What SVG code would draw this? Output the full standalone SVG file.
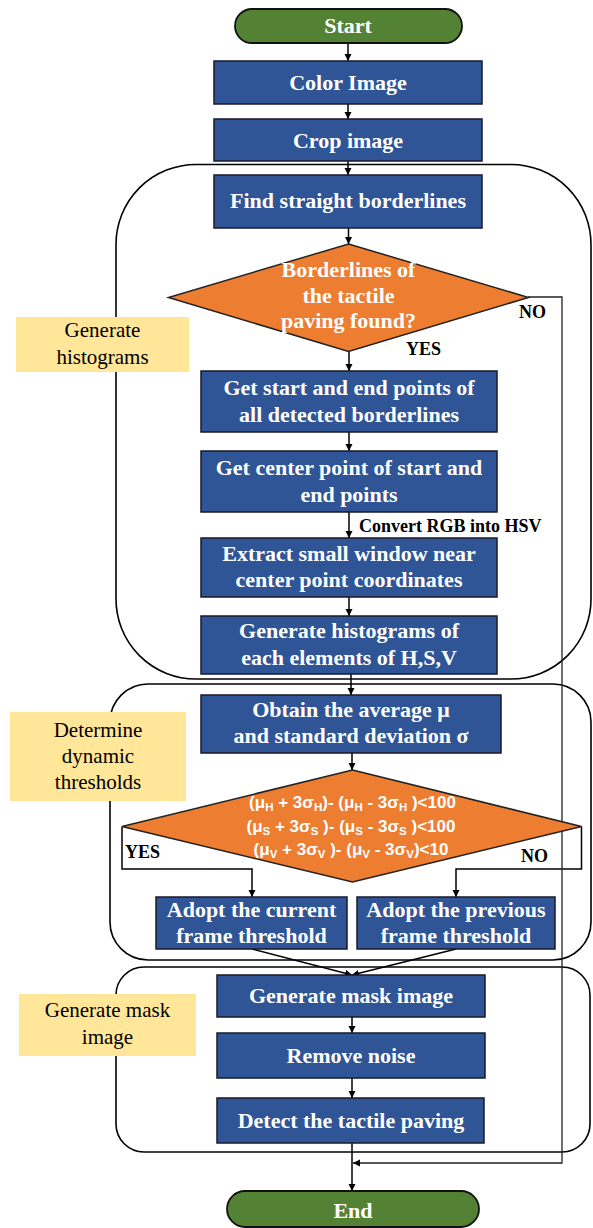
<svg xmlns="http://www.w3.org/2000/svg" width="593" height="1228" viewBox="0 0 593 1228">
<style>
.grp{fill:none;stroke:#000;stroke-width:1.6}
.lbl{fill:#FFE699}
.lt{font-family:"Liberation Serif","Times New Roman",serif;font-size:21px;fill:#000;text-anchor:middle}
.box{fill:#2F5597;stroke:#1a1a2a;stroke-width:1.5}
.term{fill:#548235;stroke:#111;stroke-width:1.8}
.dia{fill:#ED7D31;stroke:#222;stroke-width:1.5}
.bt{font-family:"Liberation Serif","Times New Roman",serif;font-size:22px;font-weight:bold;fill:#fff;text-anchor:middle}
.ct{font-family:"Liberation Serif","Times New Roman",serif;font-size:18px;font-weight:bold;fill:#000}
.ft{font-family:"Liberation Sans",Arial,sans-serif;font-size:17px;font-weight:bold;fill:#fff;text-anchor:middle}
.cn{fill:none;stroke:#000;stroke-width:1.5}
.thin{fill:none;stroke:#222;stroke-width:1.3}
</style>
<defs>
<marker id="ah" markerWidth="8" markerHeight="8" refX="7" refY="4" orient="auto" markerUnits="userSpaceOnUse">
<path d="M0,0.5 L7,4 L0,7.5 z" fill="#000"/>
</marker>
</defs>

<g id="groups">
<rect id="group-histograms" class="grp" x="116" y="164.5" width="475" height="514.5" rx="80" ry="80"/>
<rect id="group-thresholds" class="grp" x="110" y="684" width="481" height="276" rx="38" ry="38"/>
<rect id="group-mask" class="grp" x="116" y="967" width="474" height="185" rx="28" ry="28"/>
</g>

<g id="connectors">
<line class="cn" x1="348" y1="43" x2="348" y2="61" marker-end="url(#ah)"/>
<line class="cn" x1="348" y1="104" x2="348" y2="119" marker-end="url(#ah)"/>
<line class="cn" x1="348" y1="161" x2="348" y2="175" marker-end="url(#ah)"/>
<line class="cn" x1="348.5" y1="228" x2="348.5" y2="244" marker-end="url(#ah)"/>
<line class="cn" x1="349" y1="352" x2="349" y2="371" marker-end="url(#ah)"/>
<line class="cn" x1="349" y1="432" x2="349" y2="451" marker-end="url(#ah)"/>
<line class="cn" x1="349" y1="512" x2="349" y2="538" marker-end="url(#ah)"/>
<line class="cn" x1="349" y1="597" x2="349" y2="616" marker-end="url(#ah)"/>
<line class="cn" x1="351" y1="674" x2="351" y2="695" marker-end="url(#ah)"/>
<line class="cn" x1="352" y1="753" x2="352" y2="770" marker-end="url(#ah)"/>
<path class="cn" d="M122,826.5 V869 H252 V897" marker-end="url(#ah)"/>
<path class="cn" d="M581.5,826.5 V869 H456 V897" marker-end="url(#ah)"/>
<line class="cn" x1="252" y1="949" x2="352" y2="975" marker-end="url(#ah)"/>
<line class="cn" x1="456" y1="949" x2="352" y2="975" marker-end="url(#ah)"/>
<line class="cn" x1="352" y1="1017" x2="352" y2="1033" marker-end="url(#ah)"/>
<line class="cn" x1="352" y1="1078" x2="352" y2="1098" marker-end="url(#ah)"/>
<line class="cn" x1="352" y1="1143" x2="352" y2="1191" marker-end="url(#ah)"/>
<path class="thin" d="M528,297 H562 V1163 H353" marker-end="url(#ah)"/>
</g>

<g id="start">
<rect class="term" x="235" y="9" width="227" height="34" rx="17" ry="17"/>
<text class="bt" x="348" y="33">Start</text>
</g>
<g id="color-image">
<rect class="box" x="214" y="61" width="268" height="43"/>
<text class="bt" x="348" y="90">Color Image</text>
</g>
<g id="crop-image">
<rect class="box" x="214" y="119" width="268" height="42"/>
<text class="bt" x="348" y="148">Crop image</text>
</g>
<g id="find-borderlines">
<rect class="box" x="214" y="175" width="268" height="53"/>
<text class="bt" x="348" y="208">Find straight borderlines</text>
</g>
<g id="borderlines-found">
<polygon class="dia" points="348.5,244 528.5,297.5 348.5,351.5 168.5,297.5"/>
<text class="bt" x="348.5" y="277">Borderlines of</text>
<text class="bt" x="348.5" y="303">the tactile</text>
<text class="bt" x="348.5" y="328">paving found?</text>
<text class="ct" x="519" y="318">NO</text>
<text class="ct" x="406" y="355">YES</text>
</g>
<g id="get-start-end">
<rect class="box" x="201" y="371" width="296" height="61"/>
<text class="bt" x="349" y="395">Get start and end points of</text>
<text class="bt" x="349" y="421.5">all detected borderlines</text>
</g>
<g id="get-center">
<rect class="box" x="201" y="451" width="296" height="61"/>
<text class="bt" x="349" y="475">Get center point of start and</text>
<text class="bt" x="349" y="501.5">end points</text>
</g>
<text class="ct" x="359" y="532" font-size="19">Convert RGB into HSV</text>
<g id="extract-window">
<rect class="box" x="201" y="538" width="296" height="59"/>
<text class="bt" x="349" y="560.5">Extract small window near</text>
<text class="bt" x="349" y="587">center point coordinates</text>
</g>
<g id="generate-histograms">
<rect class="box" x="201" y="616" width="296" height="58"/>
<text class="bt" x="349" y="638">Generate histograms of</text>
<text class="bt" x="349" y="665">each elements of H,S,V</text>
</g>
<g id="obtain-average">
<rect class="box" x="201" y="695" width="300" height="58"/>
<text class="bt" x="351" y="717">Obtain the average μ</text>
<text class="bt" x="351" y="743">and standard deviation σ</text>
</g>
<g id="threshold-check">
<polygon class="dia" points="352.5,770 581.5,826.5 352.5,882 122,826.5"/>
<text class="ft" x="352.5" y="808">(μ<tspan dy="3" font-size="11.5">H</tspan><tspan dy="-3"> + 3σ</tspan><tspan dy="3" font-size="11.5">H</tspan><tspan dy="-3">)- (μ</tspan><tspan dy="3" font-size="11.5">H</tspan><tspan dy="-3"> - 3σ</tspan><tspan dy="3" font-size="11.5">H</tspan><tspan dy="-3"> )&lt;100</tspan></text>
<text class="ft" x="351" y="831.5">(μ<tspan dy="3" font-size="11.5">S</tspan><tspan dy="-3"> + 3σ</tspan><tspan dy="3" font-size="11.5">S</tspan><tspan dy="-3"> )- (μ</tspan><tspan dy="3" font-size="11.5">S</tspan><tspan dy="-3"> - 3σ</tspan><tspan dy="3" font-size="11.5">S</tspan><tspan dy="-3"> )&lt;100</tspan></text>
<text class="ft" x="351" y="855">(μ<tspan dy="3" font-size="11.5">V</tspan><tspan dy="-3"> + 3σ</tspan><tspan dy="3" font-size="11.5">V</tspan><tspan dy="-3"> )- (μ</tspan><tspan dy="3" font-size="11.5">V</tspan><tspan dy="-3"> - 3σ</tspan><tspan dy="3" font-size="11.5">V</tspan><tspan dy="-3">)&lt;10</tspan></text>
<text class="ct" x="125" y="858">YES</text>
<text class="ct" x="521" y="861.5">NO</text>
</g>
<g id="adopt-current">
<rect class="box" x="156" y="897" width="191" height="52"/>
<text class="bt" x="251.5" y="917">Adopt the current</text>
<text class="bt" x="251.5" y="943">frame threshold</text>
</g>
<g id="adopt-previous">
<rect class="box" x="357" y="897" width="198" height="52"/>
<text class="bt" x="456" y="917">Adopt the previous</text>
<text class="bt" x="456" y="943">frame threshold</text>
</g>
<g id="generate-mask">
<rect class="box" x="217" y="975" width="268" height="42"/>
<text class="bt" x="351" y="1003">Generate mask image</text>
</g>
<g id="remove-noise">
<rect class="box" x="217" y="1033" width="268" height="45"/>
<text class="bt" x="351" y="1062.5">Remove noise</text>
</g>
<g id="detect-paving">
<rect class="box" x="217" y="1098" width="267" height="45"/>
<text class="bt" x="351" y="1128">Detect the tactile paving</text>
</g>
<g id="end">
<rect class="term" x="227" y="1191" width="252" height="36" rx="18" ry="18"/>
<text class="bt" x="353" y="1218">End</text>
</g>

<g id="label-histograms">
<rect class="lbl" x="16" y="317" width="173" height="55"/>
<text class="lt" x="102.5" y="337">Generate</text>
<text class="lt" x="102.5" y="363.5">histograms</text>
</g>
<g id="label-thresholds">
<rect class="lbl" x="10" y="712" width="176" height="89"/>
<text class="lt" x="98" y="737">Determine</text>
<text class="lt" x="98" y="763">dynamic</text>
<text class="lt" x="98" y="789">thresholds</text>
</g>
<g id="label-mask">
<rect class="lbl" x="19" y="994" width="177" height="62"/>
<text class="lt" x="107.5" y="1017">Generate mask</text>
<text class="lt" x="107.5" y="1044">image</text>
</g>
</svg>
